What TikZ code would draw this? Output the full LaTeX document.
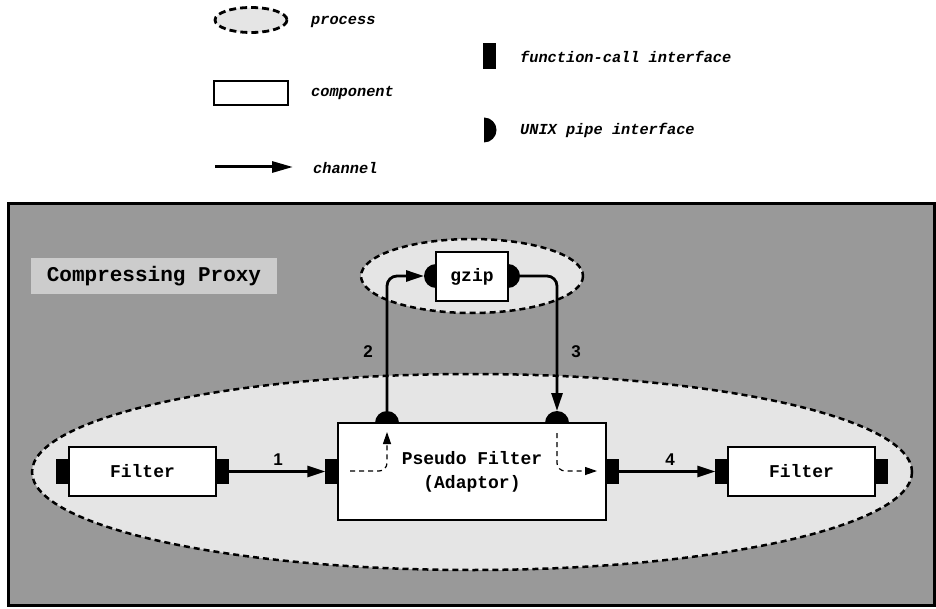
\documentclass[tikz,border=0pt]{standalone}
\usepackage{fontspec}
\newfontfamily\cour{Liberation Mono}
\newfontfamily\helv{Liberation Sans}
\usetikzlibrary{arrows.meta}
\definecolor{outerfill}{HTML}{999999}
\definecolor{procfill}{HTML}{E5E5E5}
\definecolor{labfill}{HTML}{CCCCCC}
\begin{document}
\begin{tikzpicture}[x=1pt,y=-1pt,
 comp/.style={draw=black, line width=1.2pt, fill=white, inner sep=0pt, font=\cour\bfseries\fontsize{18}{24}\selectfont},
 fcif/.style={fill=black, inner sep=0pt, outer sep=0pt, minimum width=12pt, minimum height=25pt},
 proc/.style={draw=black, fill=procfill, line width=2.5pt, dash pattern=on 6pt off 4pt},
 chan/.style={line width=2.8pt, -{Triangle[length=18pt,width=11pt]}},
 dchan/.style={line width=1.2pt, dash pattern=on 5pt off 4pt, -{Triangle[length=12pt,width=8pt]}},
 legtext/.style={anchor=west, inner sep=0pt, font=\cour\bfseries\itshape\fontsize{15.3}{18}\selectfont},
 num/.style={font=\helv\bfseries\fontsize{17}{20}\selectfont, inner sep=0pt}]

\useasboundingbox (0,0) rectangle (936,609);

% ---------- legend ----------
\draw[proc, line width=2.8pt, dash pattern=on 7pt off 4pt] (251,20) ellipse [x radius=36, y radius=12.5];
\node[legtext] (lgproctxt) at (311,22) {process};
\node[comp, minimum width=74pt, minimum height=24pt] (lgcomp) at (251,93) {};
\node[legtext] (lgcomptxt) at (311,93) {component};
\coordinate (lgA) at (215,167);
\coordinate (lgB) at (293,167);
\draw[line width=3pt, -{Triangle[length=21pt,width=11pt]}] (lgA) -- (lgB);
\node[legtext] (lgchantxt) at (313,168) {channel};
\node[fcif, minimum width=13pt, minimum height=26pt] (lgfc) at (489.5,56) {};
\node[legtext] (lgfctxt) at (520,57) {function-call interface};
\fill (484,117.5) arc[start angle=-90,end angle=90,radius=12.5] -- cycle;
\node[legtext] (lgpipetxt) at (520,130) {UNIX pipe interface};

% ---------- main frame ----------
\draw[line width=3pt, fill=outerfill] (8.5,203.5) rectangle (934,605);
\node[fill=labfill, minimum width=246pt, minimum height=36pt, inner sep=0pt,
      font=\cour\bfseries\fontsize{21}{24}\selectfont] (title) at (154,276) {Compressing Proxy};

% processes
\draw[proc] (472,472) ellipse [x radius=440, y radius=98];
\draw[proc] (472,276) ellipse [x radius=111, y radius=37];

% components
\node[comp, minimum width=147pt, minimum height=49pt] (fL) at (142.5,471.5) {Filter};
\node[comp, minimum width=268pt, minimum height=97pt, align=center] (pf) at (472,471.5) {Pseudo Filter\\(Adaptor)};
\node[comp, minimum width=147pt, minimum height=49pt] (fR) at (801.5,471.5) {Filter};
\node[comp, minimum width=72pt, minimum height=49pt] (gz) at (472,276.5) {gzip};

% function-call interfaces
\node[fcif, anchor=east] (fLl) at (fL.west) {};
\node[fcif, anchor=west] (fLr) at (fL.east) {};
\node[fcif, anchor=east] (pfl) at (pf.west) {};
\node[fcif, anchor=west] (pfr) at (pf.east) {};
\node[fcif, anchor=east] (fRl) at (fR.west) {};
\node[fcif, anchor=west] (fRr) at (fR.east) {};

% pipe interfaces
\fill (375,423) arc[start angle=180,end angle=360,radius=12] -- cycle;
\fill (545,423) arc[start angle=180,end angle=360,radius=12] -- cycle;
\fill (436,288) arc[start angle=90,end angle=270,radius=12] -- cycle;
\fill (508,264) arc[start angle=-90,end angle=90,radius=12] -- cycle;
\coordinate (pfA) at (387,411);
\coordinate (pfB) at (557,411);
\coordinate (gzA) at (424,276);
\coordinate (gzB) at (520,276);

% channels
\draw[chan] (fLr) -- (pfl);
\draw[chan] (pfr) -- (fRl);
\draw[chan, rounded corners=10pt] (pfA) |- (gzA);
\draw[chan, rounded corners=10pt] (gzB) -| (pfB);

% internal dashed flows
\coordinate (dA1) at (350,471);
\coordinate (dA2) at (387,432);
\coordinate (dB1) at (557,433);
\coordinate (dB2) at (597,471);
\draw[dchan, rounded corners=8pt] (dA1) -| (dA2);
\draw[dchan, rounded corners=8pt] (dB1) |- (dB2);

% channel numbers
\node[num] (n1) at (278,460) {1};
\node[num] (n2) at (368,352) {2};
\node[num] (n3) at (576,352) {3};
\node[num] (n4) at (670,460) {4};
\end{tikzpicture}
\end{document}
